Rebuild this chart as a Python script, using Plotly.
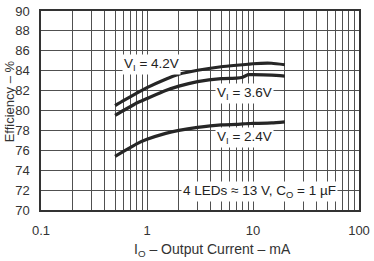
import plotly.graph_objects as go
import math

current_ma = [0.5, 0.6, 0.7, 0.8, 1, 1.5, 2, 3, 5, 7, 8, 9, 10, 15, 20]
eff_42 = [80.5, 81.0, 81.4, 81.75, 82.3, 83.15, 83.65, 84.05, 84.4, 84.55, 84.6, 84.65, 84.7, 84.75, 84.6]
eff_36 = [79.5, 80.0, 80.4, 80.75, 81.2, 82.0, 82.45, 82.9, 83.2, 83.25, 83.35, 83.6, 83.6, 83.55, 83.45]
eff_24 = [75.4, 75.9, 76.3, 76.65, 77.1, 77.7, 78.0, 78.3, 78.55, 78.6, 78.65, 78.68, 78.7, 78.75, 78.85]

x_tick_vals = [0.1, 1, 10, 100]
x_tick_text = ["0.1", "1", "10", "100"]
y_tick_vals = [70, 72, 74, 76, 78, 80, 82, 84, 86, 88, 90]

FONT = "Liberation Sans, Arial, sans-serif"
LINE = "#262626"

fig = go.Figure()
for ys in (eff_42, eff_36, eff_24):
    fig.add_trace(go.Scatter(x=current_ma, y=ys, mode="lines",
                             line=dict(color=LINE, width=3.2, shape="spline", smoothing=0.5),
                             showlegend=False, hoverinfo="skip"))

grid_vals = []
for d in (0.1, 1, 10):
    for k in range(1, 10):
        grid_vals.append(round(d * k, 6))
grid_vals.append(100)
grid_text = [x_tick_text[x_tick_vals.index(v)] if v in x_tick_vals else "" for v in grid_vals]

fig.update_xaxes(type="log", range=[-1, 2], tickvals=grid_vals, ticktext=grid_text,
                 showgrid=True, gridcolor="#505050", gridwidth=1,
                 showline=True, linecolor="#333", linewidth=1.5, mirror=True,
                 ticks="", tickfont=dict(family=FONT, size=13, color="#333"),
                 ticklabeloverflow="allow", ticklabelstandoff=8,
                 zeroline=False)
fig.update_yaxes(range=[70, 90], tickvals=y_tick_vals,
                 showgrid=True, gridcolor="#505050", gridwidth=1,
                 showline=True, linecolor="#333", linewidth=1.5, mirror=True,
                 ticks="", tickfont=dict(family=FONT, size=13, color="#333"),
                 ticklabeloverflow="allow", ticklabelstandoff=7,
                 zeroline=False)

ann_font = dict(family=FONT, size=13.5, color="#222")
annotations = [
    dict(x=math.log10(1.1), y=84.6, text="V<sub>I</sub> = 4.2V"),
    dict(x=math.log10(8.4), y=81.7, text="V<sub>I</sub> = 3.6V"),
    dict(x=math.log10(8.4), y=77.3, text="V<sub>I</sub> = 2.4V"),
    dict(x=math.log10(11.5), y=71.9, text="4 LEDs ≈ 13 V, C<sub>O</sub> = 1 µF"),
]
for a in annotations:
    fig.add_annotation(xref="x", yref="y", showarrow=False, font=ann_font,
                       bgcolor="white", borderpad=1, **a)

fig.add_annotation(xref="paper", yref="paper", x=0.54, y=-0.2, yanchor="middle",
                   showarrow=False, font=dict(family=FONT, size=14, color="#333"),
                   text="I<sub>O</sub> – Output Current – mA")
fig.add_annotation(xref="paper", yref="paper", x=-0.128, y=0.545, yanchor="middle",
                   textangle=-90,
                   showarrow=False, font=dict(family=FONT, size=13, color="#333"),
                   text="Efficiency – %")

fig.update_layout(width=374, height=261, margin=dict(l=41, r=10, t=4, b=51),
                  paper_bgcolor="white", plot_bgcolor="white")
fig.write_html("out.html")
